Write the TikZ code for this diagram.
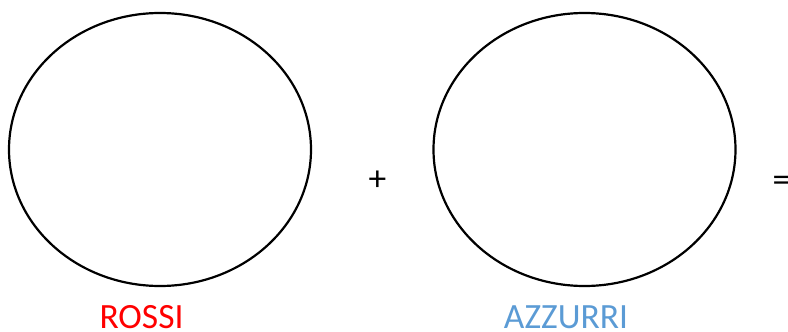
\documentclass[tikz,border=0pt]{standalone}
\usepackage{fontspec}
\setmainfont{Carlito}
\usetikzlibrary{positioning,shapes.geometric}
\definecolor{rossiRed}   {HTML}{FF0000}
\definecolor{azzurriBlue}{HTML}{5B9BD5}

\begin{document}
\begin{tikzpicture}[
        x=1pt, y=-1pt,
        every node/.style={font=\fontsize{35.5pt}{40pt}\selectfont},
        insieme/.style={draw=black, line width=2.2pt, ellipse, inner sep=0pt, minimum width=302pt, minimum height=273pt},
        segno/.style={anchor=base, inner sep=0pt},
        etichetta/.style={anchor=base, inner sep=0pt}
    ]
        \useasboundingbox (0,0) rectangle (788,332);
        \node[insieme] (rossi) at (160,149.5) {};
        \node[insieme] (azzurri) at (584.5,149.5) {};
        \node[segno] (piu) at (377.5,190) {+};
        \node[segno] (uguale) at (781.5,191.5) {=};
        \node[etichetta, text=rossiRed] (rossiLab) at (141.5,328) {ROSSI};
        \node[etichetta, text=azzurriBlue] (azzurriLab) at (566,328) {AZZURRI};
    \end{tikzpicture}
\end{document}
